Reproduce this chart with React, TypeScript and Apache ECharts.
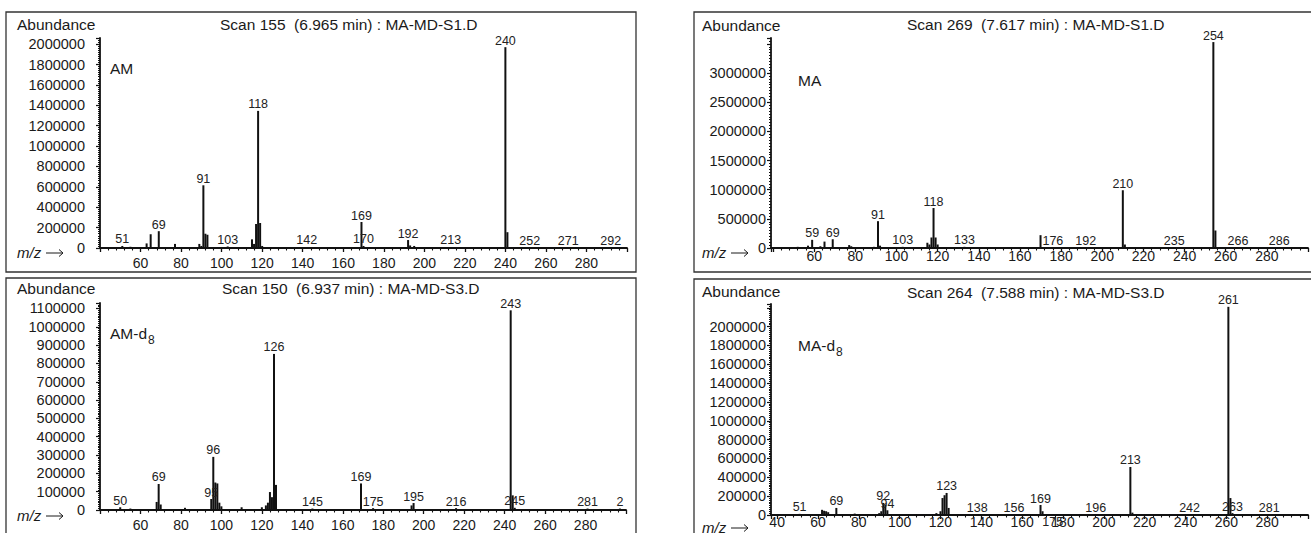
import React, { useEffect, useRef } from 'react';
import * as echarts from 'echarts';

const FONT = '"Liberation Sans", Arial, Helvetica, sans-serif';

// ---------- Panel 1: AM (Scan 155) ----------
const amMz = [51, 53, 55, 63, 65, 69, 74, 77, 89, 90, 91, 92, 93, 103, 105, 115, 116, 117, 118, 119, 120, 142, 169, 170, 192, 193, 195, 213, 240, 241, 252, 271, 292];
const amAbundance = [20000, 10000, 12000, 45000, 135000, 165000, 10000, 40000, 40000, 20000, 615000, 140000, 130000, 15000, 10000, 85000, 40000, 235000, 1345000, 245000, 20000, 10000, 255000, 20000, 78000, 25000, 20000, 10000, 1970000, 155000, 8000, 8000, 8000];
const amLabeled = [51, 69, 91, 103, 118, 142, 169, 170, 192, 213, 240, 252, 271, 292];

// ---------- Panel 2: MA (Scan 269) ----------
const maMz = [52, 57, 59, 63, 65, 69, 77, 78, 89, 91, 92, 103, 105, 115, 116, 117, 118, 119, 120, 133, 170, 176, 192, 210, 211, 235, 254, 255, 266, 286];
const maAbundance = [20000, 40000, 140000, 30000, 110000, 150000, 50000, 30000, 20000, 460000, 40000, 20000, 15000, 90000, 60000, 180000, 685000, 180000, 60000, 20000, 220000, 15000, 10000, 990000, 60000, 10000, 3530000, 300000, 10000, 10000];
const maLabeled = [59, 69, 91, 103, 118, 133, 176, 192, 210, 235, 254, 266, 286];

// ---------- Panel 3: AM-d8 (Scan 150) ----------
const amd8Mz = [50, 55, 68, 69, 70, 82, 95, 96, 97, 98, 99, 100, 110, 120, 122, 123, 124, 125, 126, 127, 145, 169, 175, 194, 195, 216, 243, 244, 245, 281, 297];
const amd8Abundance = [15000, 8000, 44000, 142000, 30000, 12000, 60000, 290000, 150000, 145000, 40000, 20000, 15000, 15000, 25000, 40000, 98000, 70000, 852000, 137000, 8000, 145000, 10000, 25000, 38000, 10000, 1090000, 80000, 12000, 8000, 8000];
const amd8Labeled = [50, 69, 95, 96, 126, 145, 169, 175, 195, 216, 243, 245, 281, 297];
const amd8LabelText: Record<number, string> = { 297: '2' };

// ---------- Panel 4: MA-d8 (Scan 264) ----------
const mad8Mz = [51, 62, 63, 64, 65, 69, 78, 90, 91, 92, 93, 94, 118, 120, 121, 122, 123, 124, 138, 156, 169, 170, 175, 196, 213, 214, 242, 261, 262, 263, 281];
const mad8Abundance = [12000, 55000, 45000, 40000, 30000, 75000, 15000, 20000, 40000, 128000, 110000, 50000, 20000, 40000, 180000, 210000, 234000, 75000, 10000, 10000, 106000, 40000, 3000, 10000, 510000, 25000, 10000, 2210000, 180000, 20000, 10000];
const mad8Labeled = [51, 69, 92, 94, 123, 138, 156, 169, 175, 196, 213, 242, 261, 263, 281];
const mad8LabelBelow = [175];

function buildItems(mz: number[], ab: number[], labeled: number[], text: Record<number, string> = {}, below: number[] = []) {
  return mz.map((m, i) => ({
    value: [m, ab[i]],
    name: text[m] !== undefined ? text[m] : String(m),
    label: below.includes(m)
      ? { show: true, position: 'bottom', distance: 0 }
      : { show: labeled.includes(m) },
  }));
}

function xAxisCfg(gridIndex: number, min: number, minLabel: number, margin: number) {
  return {
    type: 'value',
    gridIndex,
    min,
    max: 300,
    minInterval: 20,
    maxInterval: 20,
    axisLine: { show: true, onZero: false, lineStyle: { color: '#111', width: 1.8 } },
    axisTick: { show: true, length: 4, lineStyle: { color: '#111', width: 1.3 } },
    minorTick: { show: true, splitNumber: 5, length: 2.5, lineStyle: { color: '#111', width: 1.1 } },
    splitLine: { show: false },
    minorSplitLine: { show: false },
    axisLabel: {
      margin,
      fontSize: 14,
      color: '#1a1a1a',
      fontFamily: FONT,
      formatter: (v: number) => (v % 20 === 0 && v >= minLabel && v <= 280 ? String(v) : ''),
    },
  };
}

function yAxisCfg(gridIndex: number, max: number, interval: number, maxLabel: number, margin: number) {
  return {
    type: 'value',
    gridIndex,
    min: 0,
    max,
    interval,
    axisLine: { show: true, lineStyle: { color: '#111', width: 1.8 } },
    axisTick: { show: true, length: 4, lineStyle: { color: '#111', width: 1.2 } },
    minorTick: { show: true, splitNumber: 10, length: 2, lineStyle: { color: '#111', width: 1 } },
    splitLine: { show: false },
    minorSplitLine: { show: false },
    axisLabel: {
      margin,
      fontSize: 14.5,
      color: '#1a1a1a',
      fontFamily: FONT,
      formatter: (v: number) => (v <= maxLabel && Math.abs(v % interval) < 1 ? String(v) : ''),
    },
  };
}

function barSeries(idx: number, data: any[]) {
  return {
    type: 'bar',
    xAxisIndex: idx,
    yAxisIndex: idx,
    barWidth: 2,
    barGap: '-100%',
    itemStyle: { color: '#111' },
    label: {
      position: 'top',
      distance: 0,
      fontSize: 12.5,
      color: '#222',
      fontFamily: FONT,
      formatter: (p: any) => p.name,
    },
    data,
  };
}

function txt(x: number, y: number, text: string, fontSize = 15.5, extra: any = {}) {
  return {
    type: 'text',
    x,
    y,
    silent: true,
    style: { text, fontSize, fontFamily: FONT, fill: '#1a1a1a', verticalAlign: 'middle', align: 'left', ...extra },
  };
}

function frame(x: number, y: number, w: number, h: number) {
  return {
    type: 'rect',
    silent: true,
    shape: { x, y, width: w, height: h },
    style: { fill: 'none', stroke: '#333', lineWidth: 1.3 },
  };
}

function mzLabel(x: number, y: number) {
  return [
    txt(x, y, 'm/z', 15, { fontStyle: 'italic' }),
    {
      type: 'line',
      silent: true,
      shape: { x1: x + 29, y1: y + 1, x2: x + 46, y2: y + 1 },
      style: { stroke: '#1a1a1a', lineWidth: 1 },
    },
    {
      type: 'polyline',
      silent: true,
      shape: { points: [[x + 42, y - 2.5], [x + 46, y + 1], [x + 42, y + 4.5]] },
      style: { stroke: '#1a1a1a', lineWidth: 1, fill: 'none' },
    },
  ];
}

export default function App() {
  const ref = useRef<HTMLDivElement>(null);
  useEffect(() => {
    if (!ref.current) return;
    const chart = echarts.init(ref.current, undefined, { renderer: 'svg' });
    const option: any = {
      animation: false,
      backgroundColor: '#ffffff',
      grid: [
        { left: 100, top: 38, width: 527, height: 210 },
        { left: 771, top: 38, width: 542, height: 210 },
        { left: 100, top: 303, width: 526, height: 207 },
        { left: 771, top: 304, width: 543, height: 211 },
      ],
      xAxis: [
        xAxisCfg(0, 40, 60, 8),
        xAxisCfg(1, 39, 60, 1),
        xAxisCfg(2, 40, 60, 8),
        xAxisCfg(3, 37, 40, 0),
      ],
      yAxis: [
        yAxisCfg(0, 2060000, 200000, 2000000, 15),
        yAxisCfg(1, 3600000, 500000, 3000000, 5),
        yAxisCfg(2, 1130000, 100000, 1100000, 15),
        yAxisCfg(3, 2240000, 200000, 2000000, 5),
      ],
      series: [
        barSeries(0, buildItems(amMz, amAbundance, amLabeled)),
        barSeries(1, buildItems(maMz, maAbundance, maLabeled)),
        barSeries(2, buildItems(amd8Mz, amd8Abundance, amd8Labeled, amd8LabelText)),
        barSeries(3, buildItems(mad8Mz, mad8Abundance, mad8Labeled, {}, mad8LabelBelow)),
      ],
      graphic: [
        frame(6, 12, 630, 260),
        frame(694, 12, 640, 260),
        frame(6, 278, 630, 270),
        frame(694, 279, 640, 270),
        txt(17, 24, 'Abundance'),
        txt(702, 25, 'Abundance'),
        txt(17, 288, 'Abundance'),
        txt(702, 291, 'Abundance'),
        txt(220, 24, 'Scan 155  (6.965 min) : MA-MD-S1.D'),
        txt(907, 24, 'Scan 269  (7.617 min) : MA-MD-S1.D'),
        txt(222, 288, 'Scan 150  (6.937 min) : MA-MD-S3.D'),
        txt(907, 292, 'Scan 264  (7.588 min) : MA-MD-S3.D'),
        txt(110, 68, 'AM'),
        txt(798, 80, 'MA'),
        txt(110, 333, 'AM-d'),
        txt(148, 340, '8', 12),
        txt(798, 345, 'MA-d'),
        txt(836, 352, '8', 12),
        ...mzLabel(17, 252),
        ...mzLabel(702, 252),
        ...mzLabel(17, 515),
        ...mzLabel(702, 527),
      ],
    };
    chart.setOption(option);
    return () => chart.dispose();
  }, []);
  return <div ref={ref} style={{ position: 'absolute', left: 0, top: 0, width: 1311, height: 533 }} />;
}
